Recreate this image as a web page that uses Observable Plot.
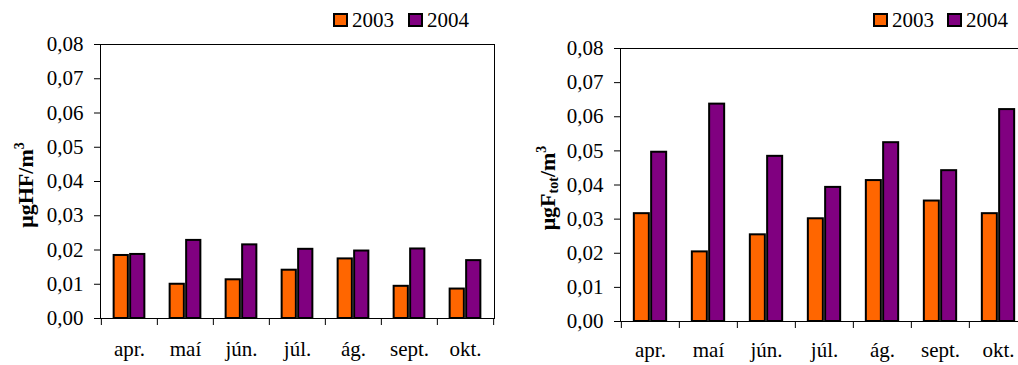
<!DOCTYPE html>
<html>
<head>
<meta charset="utf-8">
<script src="https://cdn.jsdelivr.net/npm/d3@7"></script>
<script src="https://cdn.jsdelivr.net/npm/@observablehq/plot@0.6"></script>
<style>
  html, body { margin: 0; padding: 0; background: #fff; overflow: hidden; }
  #wrap { position: relative; width: 1018px; height: 365px; overflow: hidden;
          font-family: "Liberation Serif", "Times New Roman", serif; color: #000; }
  .panel { position: absolute; top: 0; }
  .item { position: absolute; display: flex; align-items: center; font-size: 21px;
          line-height: 20px; height: 20px; white-space: nowrap; }
  .sw { box-sizing: border-box; width: 15px; height: 14px; border: 2px solid #000; margin-right: 4px; }
  .ylab { position: absolute; font-weight: bold; font-size: 22px; white-space: nowrap;
          transform: translate(-50%, -50%) rotate(-90deg); line-height: 22px; }
  .ylab sup { font-size: 14px; vertical-align: 9px; }
  .ylab sub { font-size: 14px; vertical-align: -3px; }
</style>
</head>
<body>
<div id="wrap"></div>
<script>
// Months on the category axis
const months = ["apr.", "maí", "jún.", "júl.", "ág.", "sept.", "okt."];
// Series labels and fills
const years = ["2003", "2004"];
const yearColors = ["#FF6600", "#800080"];
// Hydrogen fluoride, µg HF/m³
const hf2003 = [0.0184, 0.0100, 0.0113, 0.0141, 0.0174, 0.0094, 0.0086];
const hf2004 = [0.0187, 0.0228, 0.0215, 0.0202, 0.0197, 0.0203, 0.0169];
// Total fluoride, µg F_tot/m³
const ft2003 = [0.0316, 0.0204, 0.0254, 0.0301, 0.0413, 0.0353, 0.0316];
const ft2004 = [0.0496, 0.0637, 0.0484, 0.0393, 0.0524, 0.0442, 0.0621];
// Value axis ticks
const yTicks = [0, 0.01, 0.02, 0.03, 0.04, 0.05, 0.06, 0.07, 0.08];

const fmt = d => d.toFixed(2).replace(".", ",");
const wrap = document.getElementById("wrap");

function panel({left, width, m, v2003, v2004, barW, labelPad}) {
  const plotW = width - m.left - m.right;
  const step = plotW / months.length;
  const half = step / 2;
  const bar = (vals, i) => Plot.barY(vals, {
    x: months, y: vals, fill: yearColors[i], stroke: "#000", strokeWidth: 2,
    insetLeft: i === 0 ? half - barW + 1 : half + 1,
    insetRight: i === 0 ? half + 1 : half - barW + 1
  });
  const chart = Plot.plot({
    width, height: 365,
    marginLeft: m.left, marginRight: m.right, marginTop: m.top, marginBottom: m.bottom,
    style: {fontFamily: "Liberation Serif, Times New Roman, serif", fontSize: "21px",
            color: "#000", background: "#fff", overflow: "visible"},
    x: {type: "band", domain: months, padding: 0, label: null},
    y: {domain: [0, 0.08], label: null},
    marks: [
      bar(v2003, 0),
      bar(v2004, 1),
      Plot.frame({stroke: "#000", strokeWidth: 1}),
      Plot.axisY({ticks: yTicks, tickFormat: fmt, tickSize: 6, tickPadding: 11, label: null}),
      // category boundary ticks
      Plot.axisX({tickSize: 7, tickFormat: () => "", dx: -half, label: null}),
      Plot.axisX({ticks: [months[months.length - 1]], tickSize: 7, tickFormat: () => "", dx: half, label: null}),
      Plot.axisX({tickSize: 0, tickPadding: labelPad, label: null})
    ]
  });
  chart.classList.add("panel");
  chart.style.left = left + "px";
  wrap.appendChild(chart);
}

panel({left: 0, width: 505, m: {left: 100, right: 11, top: 44, bottom: 47},
       v2003: hf2003, v2004: hf2004, barW: 16.5, labelPad: 23});
panel({left: 505, width: 535, m: {left: 115, right: 12, top: 48, bottom: 44},
       v2003: ft2003, v2004: ft2004, barW: 17.3, labelPad: 21});

// legends
function legend(xs) {
  years.forEach((y, i) => {
    const it = document.createElement("div");
    it.className = "item";
    it.style.left = xs[i] + "px";
    it.style.top = "10px";
    it.innerHTML = `<span class="sw" style="background:${yearColors[i]}"></span><span>${y}</span>`;
    wrap.appendChild(it);
  });
}
legend([333, 408]);
legend([873, 947]);

// value-axis titles
function ytitle(html, x, y) {
  const d = document.createElement("div");
  d.className = "ylab";
  d.style.left = x + "px";
  d.style.top = y + "px";
  d.innerHTML = html;
  wrap.appendChild(d);
}
ytitle("μgHF/m<sup>3</sup>", 23, 185);
ytitle("μgF<sub>tot</sub>/m<sup>3</sup>", 548, 188);
</script>
</body>
</html>
